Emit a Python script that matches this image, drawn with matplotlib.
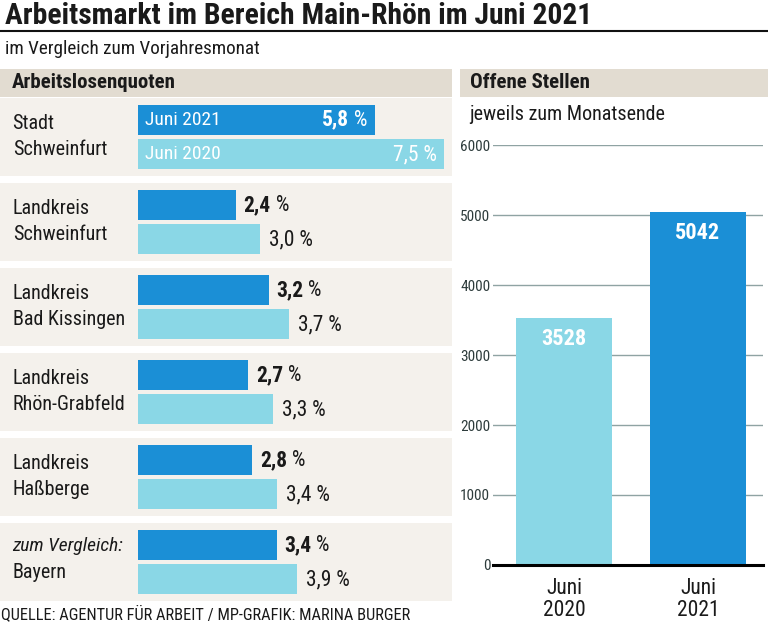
import matplotlib
matplotlib.use('Agg')
import matplotlib.pyplot as plt
from matplotlib import font_manager as fm
from matplotlib.lines import Line2D

# ---------------- data ----------------
region_line1 = ["Stadt", "Landkreis", "Landkreis", "Landkreis", "Landkreis", "zum Vergleich:"]
region_line2 = ["Schweinfurt", "Schweinfurt", "Bad Kissingen", "Rhön-Grabfeld", "Haßberge", "Bayern"]
quote_2021 = [5.8, 2.4, 3.2, 2.7, 2.8, 3.4]
quote_2020 = [7.5, 3.0, 3.7, 3.3, 3.4, 3.9]
bar_labels = ["Juni 2021", "Juni 2020"]
stellen_labels = ["Juni\n2020", "Juni\n2021"]
stellen_values = [3528, 5042]
stellen_ticks = [0, 1000, 2000, 3000, 4000, 5000, 6000]

# ---------------- style ----------------
names = {f.name for f in fm.fontManager.ttflist}
FONT = 'DejaVu Sans'
for cand in ['Roboto Condensed', 'Liberation Sans Narrow', 'Open Sans Condensed', 'Liberation Sans', 'Open Sans']:
    if cand in names:
        FONT = cand
        break
plt.rcParams['font.family'] = [FONT, 'DejaVu Sans']

DARK = '#1b8fd6'
LIGHT = '#8ad7e6'
BAND = '#e2dcd1'
ROWBG = '#f4f1ec'
TXT = '#1a1a1a'
GRID = '#8fa3a3'
TICK = '#2e3c3c'

W, H = 768, 622
fig = plt.figure(figsize=(W / 100, H / 100), dpi=100)
fig.patch.set_facecolor('white')


def box(x0, y0, x1, y1):
    return [x0 / W, 1 - y1 / H, (x1 - x0) / W, (y1 - y0) / H]


def ftext(x, y, s, **kw):
    return fig.text(x / W, 1 - y / H, s, **kw)


# ---------------- titles ----------------
ftext(5, 24, "Arbeitsmarkt im Bereich Main-Rhön im Juni 2021", fontsize=21.3,
      fontweight='bold', color=TXT, va='baseline')
fig.add_artist(Line2D([0, 1], [1 - 30.5 / H] * 2, color='#111111', lw=1.5))
ftext(5, 54, "im Vergleich zum Vorjahresmonat", fontsize=13.8, color=TXT, va='baseline')

# header bands
fig.add_artist(plt.Rectangle((0, 1 - 97 / H), 452 / W, 28 / H, transform=fig.transFigure,
                             color=BAND, lw=0, zorder=0))
fig.add_artist(plt.Rectangle((460 / W, 1 - 97 / H), 308 / W, 28 / H, transform=fig.transFigure,
                             color=BAND, lw=0, zorder=0))
ftext(12, 88, "Arbeitslosenquoten", fontsize=15, fontweight='bold', color=TXT, va='baseline')
ftext(470, 88, "Offene Stellen", fontsize=15, fontweight='bold', color=TXT, va='baseline')
ftext(469, 120, "jeweils zum Monatsende", fontsize=14.5, color=TXT, va='baseline')

# footer
ftext(1, 619, "QUELLE: AGENTUR FÜR ARBEIT / MP-GRAFIK: MARINA BURGER", fontsize=11.8,
      color=TXT, va='baseline')

# ---------------- left panel ----------------
PXPCT = 40.8
ax = fig.add_axes(box(0, 96, 452, 606))
ax.set_xlim(-138 / PXPCT, (452 - 138) / PXPCT)
ax.set_ylim(5.512, -0.488)
ax.axis('off')

fmt = lambda v: f"{v:.1f}".replace('.', ',')
LAB_FS = 14.5
VAL_FS = 15.5

for i in range(len(quote_2021)):
    ax.axhspan(i - 0.459, i + 0.459, color=ROWBG, lw=0, zorder=0)
    ax.barh(i - 0.205, quote_2021[i], height=0.353, left=0, color=DARK, zorder=2)
    ax.barh(i + 0.2, quote_2020[i], height=0.353, left=0, color=LIGHT, zorder=2)

    last = i == len(quote_2021) - 1
    y1 = -0.14 if last else -0.1
    y2 = 0.18 if last else 0.205
    ax.text(12 / 452, i + y1, region_line1[i], transform=ax.get_yaxis_transform(),
            fontsize=LAB_FS - (0.5 if last else 0), style='italic' if last else 'normal',
            color=TXT, va='baseline', ha='left')
    ax.text(13 / 452, i + y2, region_line2[i], transform=ax.get_yaxis_transform(),
            fontsize=LAB_FS, color=TXT, va='baseline', ha='left')

    if i == 0:
        # labels inside the bars
        ax.annotate(bar_labels[0], xy=(0, i - 0.205), xytext=(5, 0), textcoords='offset points',
                    color='white', fontsize=14, va='center', ha='left', zorder=3)
        ax.annotate(bar_labels[1], xy=(0, i + 0.2), xytext=(5, 0), textcoords='offset points',
                    color='white', fontsize=14, va='center', ha='left', zorder=3)
        pct = ax.annotate(" %", xy=(quote_2021[i], i - 0.205), xytext=(-5, 0),
                          textcoords='offset points', color='white', fontsize=VAL_FS,
                          va='center', ha='right', zorder=3)
        ax.annotate(fmt(quote_2021[i]), xy=(0, 0), xycoords=pct, color='white',
                    fontsize=VAL_FS, fontweight='bold', va='bottom', ha='right', zorder=3)
        ax.annotate(fmt(quote_2020[i]) + " %", xy=(quote_2020[i], i + 0.2), xytext=(-5, 0),
                    textcoords='offset points', color='white', fontsize=VAL_FS,
                    va='center', ha='right', zorder=3)
    else:
        num = ax.annotate(fmt(quote_2021[i]), xy=(quote_2021[i], i - 0.205), xytext=(5.5, 0),
                          textcoords='offset points', color=TXT, fontsize=VAL_FS,
                          fontweight='bold', va='center', ha='left')
        ax.annotate(" %", xy=(1, 0), xycoords=num, color=TXT, fontsize=VAL_FS,
                    va='bottom', ha='left')
        ax.annotate(fmt(quote_2020[i]) + " %", xy=(quote_2020[i], i + 0.2), xytext=(6.5, 0),
                    textcoords='offset points', color=TXT, fontsize=VAL_FS,
                    va='center', ha='left')

# ---------------- right panel ----------------
ax2 = fig.add_axes(box(493, 145, 763, 565))
ax2.set_facecolor('none')
ax2.set_ylim(0, 6000)
ax2.set_xlim(-71 / 134, 199 / 134)
xs = list(range(len(stellen_values)))
ax2.bar(xs, stellen_values, width=96 / 134, color=[LIGHT, DARK], zorder=2)
ax2.set_yticks(stellen_ticks)
ax2.set_yticklabels([str(t) for t in stellen_ticks])
ax2.yaxis.grid(True, color=GRID, lw=1, zorder=0)
ax2.set_axisbelow(True)
for s in ax2.spines.values():
    s.set_visible(False)
ax2.axhline(0, color='black', lw=2.2, zorder=3, clip_on=False)
ax2.tick_params(axis='y', length=0, pad=2, labelsize=11, labelcolor=TICK)
ax2.set_xticks(xs)
ax2.set_xticklabels(stellen_labels, fontsize=15.5, color=TXT, linespacing=1.1)
ax2.tick_params(axis='x', length=0, pad=9)
for x, v in zip(xs, stellen_values):
    ax2.annotate(str(v), xy=(x, v), xytext=(0, -15), textcoords='offset points',
                 ha='center', va='center', color='white', fontweight='bold', fontsize=16, zorder=4)

fig.savefig('out.png', dpi=100, facecolor='white')
